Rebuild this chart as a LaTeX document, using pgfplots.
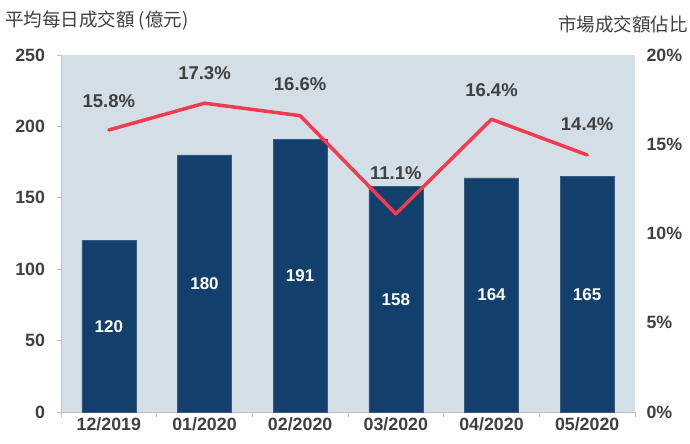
\documentclass[border=0pt]{standalone}
\usepackage{pgfplots}
\pgfplotsset{compat=1.18}
\usepackage{fontspec}
\setmainfont{Liberation Sans}
\newfontfamily\cjk{Noto Sans CJK TC}
\definecolor{barblue}{HTML}{123F6B}
\definecolor{bgblue}{HTML}{D3DEE7}
\definecolor{linered}{HTML}{F23A50}
\definecolor{txtgray}{HTML}{404040}
\definecolor{axgray}{HTML}{BFBFBF}
\begin{document}
\begin{tikzpicture}
\useasboundingbox (0,0) rectangle (690bp,444bp);
\node[anchor=west, text=txtgray, font=\cjk\fontsize{18.5bp}{20bp}\selectfont, inner sep=0] at (5bp,424bp) {平均每日成交額 (億元)};
\node[anchor=east, text=txtgray, font=\cjk\fontsize{18.5bp}{20bp}\selectfont, inner sep=0] at (688bp,420bp) {市場成交額佔比};
\begin{axis}[at={(61bp,32bp)}, anchor=south west, scale only axis, width=574bp, height=357bp,
  xmin=-0.5, xmax=5.5, ymin=0, ymax=250,
  axis lines*=left, axis line style={draw=axgray, line width=0.8bp},
  axis background/.style={fill=bgblue},
  xtick={-0.5,0.5,...,5.5}, xticklabels={},
  extra x ticks={0,1,2,3,4,5},
  extra x tick labels={12/2019,01/2020,02/2020,03/2020,04/2020,05/2020},
  extra x tick style={major tick length=0pt, xticklabel style={yshift=-2bp}},
  ytick={0,50,...,250},
  tick align=outside, major tick length=4.5bp,
  tick style={draw=axgray, line width=0.8bp},
  ticklabel style={font=\fontsize{17.8bp}{20bp}\selectfont\bfseries, text=txtgray},
  /pgf/number format/assume math mode=true,
  yticklabel style={xshift=-8bp},
  clip=false,
]
\addplot[ybar, bar width=54bp, fill=barblue, draw=barblue!85!white, line width=0.5bp,
  nodes near coords, visualization depends on={y \as \rawy},
  every node near coord/.append style={anchor=center, text=white, inner sep=0pt,
    font=\fontsize{17bp}{20bp}\selectfont\bfseries, yshift={-0.5*\rawy*1.428bp}}]
  table {
x y
0 120
1 180
2 191
3 158
4 164
5 165
};
\end{axis}
\begin{axis}[at={(61bp,32bp)}, anchor=south west, scale only axis, width=574bp, height=357bp,
  xmin=-0.5, xmax=5.5, ymin=0, ymax=20,
  axis y line*=right, axis x line=none,
  y axis line style={draw=none},
  ytick={0,5,...,20}, major tick length=0pt,
  yticklabel={\pgfmathprintnumber{\tick}\%},
  yticklabel style={anchor=west, xshift=8bp, font=\fontsize{17.8bp}{20bp}\selectfont\bfseries, text=txtgray},
  /pgf/number format/assume math mode=true,
  clip=false,
]
\addplot[linered, line width=3.5bp, mark=none, line cap=round, line join=round,
  point meta=y,
  nodes near coords={\pgfmathprintnumber[fixed,precision=1,fixed zerofill]{\pgfplotspointmeta}\%},
  visualization depends on={\thisrow{off} \as \off},
  every node near coord/.append style={anchor=south, text=txtgray, inner sep=0pt,
    font=\fontsize{18.5bp}{20bp}\selectfont\bfseries, yshift=\off bp}]
  table {
x y off
0 15.8 21
1 17.3 22
2 16.6 23
3 11.1 32
4 16.4 21
5 14.4 23
};
\end{axis}
\end{tikzpicture}
\end{document}
